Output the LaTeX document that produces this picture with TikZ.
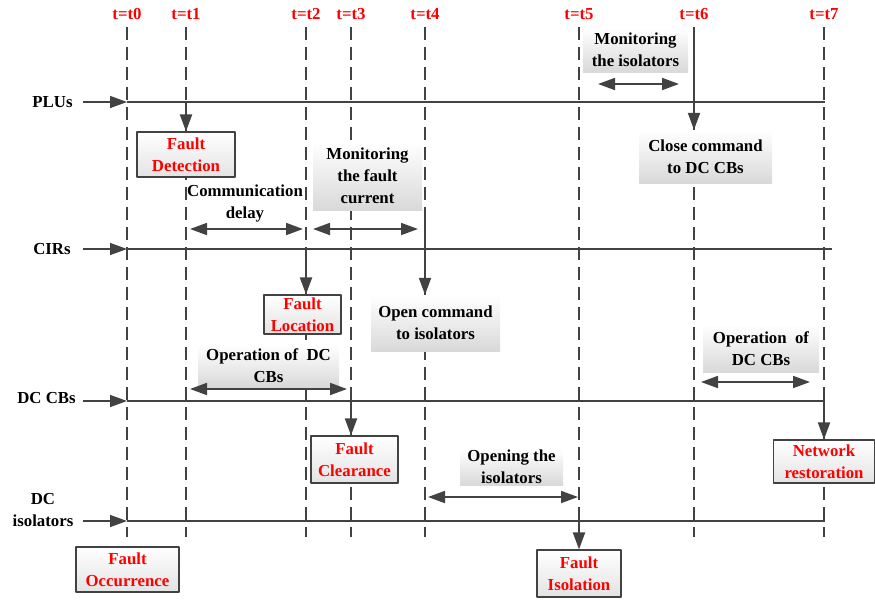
\documentclass[tikz,border=0pt]{standalone}
\usepackage{fontspec}
\setmainfont{Liberation Serif}
\usetikzlibrary{arrows.meta}
\definecolor{ln}{RGB}{66,66,66}
\begin{document}
\begin{tikzpicture}[x=1pt,y=-1pt,line join=round,>={Triangle[length=17pt,width=12pt]}]
                \tikzset{txt/.style={font=\fontsize{16.8}{22}\selectfont\bfseries,align=center,inner sep=0pt},
                    tlab/.style={txt,text=red},
                    evt/.style={txt,text=red,draw=ln,line width=1.2pt,top color=white,bottom color=gray!22},
                    act/.style={txt,top color=white,bottom color=gray!30},
                    bus/.style={ln,line width=2.6pt},
                    feed/.style={ln,line width=1.5pt,->},
                    trig/.style={ln,line width=2pt,->},
                    span/.style={ln,line width=1.8pt,<->},
                    grid/.style={ln,line width=1.6pt,dash pattern=on 12.5pt off 7.5pt}}
                \useasboundingbox (0,0) rectangle (875,603);
                \foreach \n/\x in {0/127,1/186,2/306,3/351,4/425,5/579,6/694,7/824}{
                    \node[tlab] (t\n) at (\x,14) {t=t\n};
                    \draw[grid] (\x,27)--(\x,537);
                }
                \foreach \r/\lx/\ly/\y/\e/\txt in {plu/52.5/102/102/825/PLUs,cir/52/249/249/832/CIRs,cb/46.5/398/401/825/DC CBs,iso/43/510.5/521/825/{DC\\isolators}}{
                    \node[txt] (\r) at (\lx,\ly) {\txt};
                    \coordinate (\r-in) at (83,\y);
                    \coordinate (\r-a) at (127,\y);
                    \coordinate (\r-b) at (\e,\y);
                    \draw[feed] (\r-in)--(\r-a);
                    \draw[bus] (\r-a)--(\r-b);
                }
                \node[evt,minimum width=98,minimum height=45] (det) at (186,154.5) {Fault\\Detection};
                \node[evt,minimum width=77,minimum height=39] (loc) at (302.5,314.5) {Fault\\Location};
                \node[evt,minimum width=87,minimum height=47] (clr) at (354.5,459.5) {Fault\\Clearance};
                \node[evt,minimum width=84,minimum height=47] (fis) at (579,573.5) {Fault\\Isolation};
                \node[evt,minimum width=101,minimum height=43] (rst) at (824,461.5) {Network\\restoration};
                \node[evt,minimum width=103,minimum height=45] (occ) at (127.5,569.5) {Fault\\Occurrence};
                \node[act,minimum width=109,minimum height=68] (mfc) at (367.5,176) {Monitoring\\the fault\\current};
                \node[act,minimum width=105,minimum height=44] (mis) at (635.5,50) {Monitoring\\the isolators};
                \node[act,minimum width=133,minimum height=53] (ccb) at (705.5,156.5) {Close command\\to DC CBs};
                \node[act,minimum width=129,minimum height=56] (oci) at (435.5,323) {Open command\\to isolators};
                \node[act,minimum width=141,minimum height=42] (ocb) at (268.5,366) {Operation of~ DC\\CBs};
                \node[act,minimum width=103,minimum height=36] (oti) at (511.5,467) {Opening the\\isolators};
                \node[act,minimum width=116,minimum height=47] (rcb) at (761,348.5) {Operation~ of\\DC CBs};
                \node[txt] (cdl) at (245,203) {Communication\\delay};
                \coordinate (cdl-a) at (190,229); \coordinate (cdl-b) at (303,229);
                \coordinate (mfc-a) at (313,229); \coordinate (mfc-b) at (418,229);
                \coordinate (mis-a) at (598,84); \coordinate (mis-b) at (679,84);
                \coordinate (ocb-a) at (190,389); \coordinate (ocb-b) at (347,389);
                \coordinate (oti-a) at (428,497); \coordinate (oti-b) at (578,497);
                \coordinate (rcb-a) at (701,382); \coordinate (rcb-b) at (810,382);
                \foreach \s in {cdl,mfc,mis,ocb,oti,rcb} \draw[span] (\s-a)--(\s-b);
                \draw[trig] (t1 |- plu-a)--(det.north);
                \draw[trig] (t2 |- cir-a)--(t2 |- loc.north);
                \draw[trig] (t3 |- cb-a)--(t3 |- clr.north);
                \draw[trig] (t4 |- mfc.south)--(t4 |- oci.north);
                \draw[trig] (t5 |- iso-a)--(fis.north);
                \draw[trig] ([yshift=-5pt]t6 |- mis.north)--(t6 |- ccb.north);
                \draw[trig] (t7 |- cb-a)--(rst.north);
            \end{tikzpicture}
\end{document}
